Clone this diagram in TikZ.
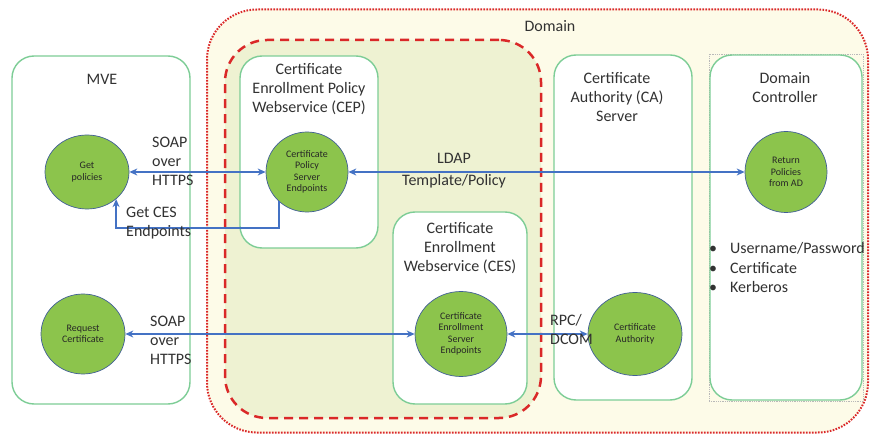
\documentclass[tikz,border=0pt]{standalone}
\usepackage{fontspec}
\setmainfont{Carlito}
\definecolor{boxgreen}{RGB}{125, 205, 150}
\definecolor{epgreen}{RGB}{140, 196, 76}
\definecolor{epline}{RGB}{65, 95, 150}
\definecolor{linkblue}{RGB}{68, 114, 196}
\definecolor{domred}{RGB}{218, 40, 40}
\definecolor{domfill}{RGB}{253, 251, 232}
\definecolor{zonefill}{RGB}{238, 242, 210}
\definecolor{txtgray}{RGB}{50, 50, 50}
\usetikzlibrary{shapes.geometric, arrows.meta, positioning}

\tikzset{
  srvbox/.style={draw=boxgreen, fill=white, line width=1.4pt, rounded corners=22pt, inner sep=0pt},
  endpt/.style={ellipse, draw=epline, line width=0.7pt, fill=epgreen, inner sep=1pt, align=center, font=\fontsize{10}{11.5}\selectfont, text=black!85},
  title/.style={font=\fontsize{16}{19}\selectfont, text=txtgray, align=center, inner sep=0pt},
  lbl/.style={title, align=left, anchor=west},
  link/.style={linkblue, line width=2pt},
  twoway/.style={link, {Stealth[length=8pt,width=7pt]}-{Stealth[length=8pt,width=7pt]}},
  oneway/.style={link, -{Stealth[length=8pt,width=7pt]}},
}

\begin{document}
\begin{tikzpicture}[x=1pt, y=1pt]
  \useasboundingbox (0,0) rectangle (870,434);

  % Domain and enrollment zone
  \node[draw=domred, dash pattern=on 1.6pt off 1.4pt, line width=2pt, fill=domfill, rounded corners=50pt, minimum width=661pt, minimum height=423pt] (domain) at (537.5, 213) {};
  \node[draw=domred, dash pattern=on 9pt off 6pt, line width=2.5pt, fill=zonefill, rounded corners=42pt, minimum width=316pt, minimum height=378pt] (zone) at (383, 205) {};

  % Servers
  \node[srvbox, minimum width=178pt, minimum height=348pt] (mve) at (101, 204) {};
  \node[srvbox, minimum width=138pt, minimum height=192pt] (cep) at (309, 282) {};
  \node[srvbox, minimum width=134pt, minimum height=192pt] (ces) at (460, 126) {};
  \node[srvbox, minimum width=138pt, minimum height=345pt] (ca) at (623, 206.5) {};
  \node[draw=gray!55, densely dotted, line width=0.8pt, minimum width=154pt, minimum height=347pt, inner sep=0pt] (dcframe) at (786, 206.5) {};
  \node[srvbox, minimum width=152pt, minimum height=345pt] (dc) at (786, 206.5) {};

  % Endpoints
  \node[endpt, minimum width=84pt, minimum height=74pt] (getp) at (87, 262) {Get\\policies};
  \node[endpt, minimum width=82pt, minimum height=80pt] (cepe) at (307, 262) {Certificate\\Policy\\Server\\Endpoints};
  \node[endpt, minimum width=82pt, minimum height=81pt] (retp) at (786, 262) {Return\\Policies\\from AD};
  \node[endpt, minimum width=84pt, minimum height=80pt] (reqc) at (83, 100) {Request\\Certificate};
  \node[endpt, minimum width=92pt, minimum height=85pt] (cese) at (461, 100) {Certificate\\Enrollment\\Server\\Endpoints};
  \node[endpt, minimum width=94pt, minimum height=83pt] (caa) at (635, 100) {Certificate\\Authority};

  % Links
  \draw[twoway] (getp) -- (cepe);
  \draw[twoway] (cepe) -- (retp);
  \draw[twoway] (reqc) -- (cese);
  \draw[twoway] (cese) -- (caa);
  \draw[oneway] (cepe.226) |- ++(0,-27) -| (getp.317);

  % Titles
  \node[title] (domt) at (550, 408) {Domain};
  \node[title] (mvet) at (102, 355) {MVE};
  \node[title] (cept) at (309, 345) {Certificate\\Enrollment Policy\\Webservice (CEP)};
  \node[title] (cest) at (460, 186) {Certificate\\Enrollment\\Webservice (CES)};
  \node[title] (cat) at (617, 337) {Certificate\\Authority (CA)\\Server};
  \node[title] (dct) at (785, 346.5) {Domain\\Controller};

  % Labels
  \node[lbl] (soap1) at (152, 273) {SOAP\\over\\HTTPS};
  \node[lbl] (getces) at (126, 210.5) {Get CES\\Endpoints};
  \node[title, font=\fontsize{16}{22}\selectfont] (ldap) at (454, 263) {LDAP\\Template/Policy};
  \node[lbl] (soap2) at (150, 94) {SOAP\\over\\HTTPS};
  \node[lbl] (rpc) at (550, 104) {RPC/\\DCOM};
  \node[lbl, font=\fontsize{16}{19.5}\selectfont] (auth) at (709, 166) {\makebox[21pt][l]{\textbullet}Username/Password\\\makebox[21pt][l]{\textbullet}Certificate\\\makebox[21pt][l]{\textbullet}Kerberos};
\end{tikzpicture}
\end{document}
